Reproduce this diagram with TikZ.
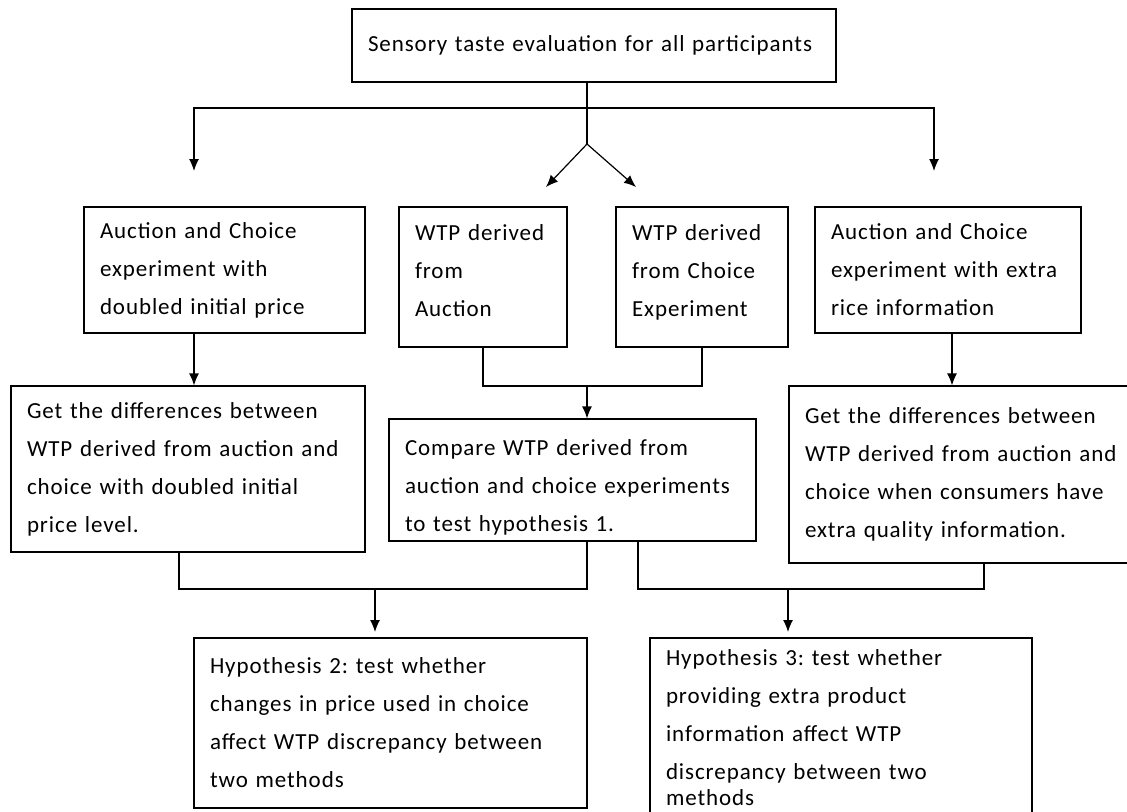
\documentclass[tikz,border=0pt]{standalone}
\usepackage{fontspec}
\setmainfont{Carlito}[LetterSpace=4,WordSpace=0.7]
\usetikzlibrary{arrows.meta}
\tikzset{
  box/.style={draw, line width=0.6pt, align=left, inner xsep=8pt, inner ysep=0pt,
    font=\fontsize{11.5}{19}\selectfont\frenchspacing},
  link/.style={line width=0.6pt},
  arr/.style={link, -{Latex[length=6pt,width=5pt]}}
}

\begin{document}
\begin{tikzpicture}[x=0.5pt,y=-0.5pt]
  \useasboundingbox (0,0) rectangle (1127,811);

  % Boxes
  \node[box, text width=226pt, minimum height=36.5pt] (taste) at (594,45.5)
    {Sensory taste evaluation for all participants};

  \node[box, text width=124.5pt, minimum height=63pt] (doubled) at (224.5,270)
    {Auction and Choice\\ experiment with\\ doubled initial price};
  \node[box, text width=68pt, minimum height=70pt] (wtpauction) at (483,277)
    {WTP derived\\ from\\ Auction\\[-12pt]\mbox{}};
  \node[box, text width=70pt, minimum height=70pt] (wtpchoice) at (702,277)
    {WTP derived\\ from Choice\\ Experiment\\[-12pt]\mbox{}};
  \node[box, text width=117pt, minimum height=63pt] (extrainfo) at (948,270)
    {Auction and Choice\\ experiment with extra\\ rice information};

  \node[box, text width=161pt, minimum height=83pt] (diffdouble) at (188,469)
    {Get the differences between\\ WTP derived from auction and\\ choice with doubled initial\\ price level.};
  \node[box, text width=167.5pt, minimum height=61pt] (compare) at (572.5,480)
    {\rule{0pt}{15pt}Compare WTP derived from\\ auction and choice experiments\\ to test hypothesis 1.};
  \node[box, text width=162pt, minimum height=88.5pt] (diffextra) at (967,474.5)
    {Get the differences between\\ WTP derived from auction and\\ choice when consumers have\\ extra quality information.};

  \node[box, text width=180.5pt, minimum height=85pt] (hyptwo) at (390.5,723)
    {Hypothesis 2: test whether\\ changes in price used in choice\\ affect WTP discrepancy between\\ two methods};
  \node[box, text width=175pt, minimum height=90pt] (hypthree) at (841,728)
    {Hypothesis 3: test whether\\ providing extra product\\ information affect WTP\\ discrepancy between two\\[-6pt] methods};

  % Split below the taste evaluation
  \coordinate (bus) at (587,108);
  \coordinate (fork) at (587,144);
  \coordinate (tipA) at (194,171);
  \coordinate (tipD) at (934,171);
  \coordinate (tipB) at (546,187);
  \coordinate (tipC) at (636,187);
  \draw[link] (taste.south -| fork) -- (fork);
  \draw[arr] (bus) -| (tipA);
  \draw[arr] (bus) -| (tipD);
  \draw[arr] (fork) -- (tipB);
  \draw[arr] (fork) -- (tipC);

  % Second row to third row
  \draw[arr] (tipA |- doubled.south) -- (tipA |- diffdouble.north);
  \coordinate (joinF) at (587,386);
  \draw[link] (wtpauction.south) |- (joinF) -| (wtpchoice.south);
  \draw[arr] (joinF) -- (joinF |- compare.north);
  \draw[arr] ([xshift=2pt]extrainfo.south) -- ([xshift=2pt]extrainfo.south |- diffextra.north);

  % Into the hypotheses
  \coordinate (joinH) at (375,589);
  \coordinate (joinI) at (788,589);
  \coordinate (stopH) at (375,632);
  \coordinate (stopI) at (788,632);
  \draw[link] ([xshift=-4.5pt]diffdouble.south) |- (joinH) -| ([xshift=7.25pt]compare.south);
  \draw[arr] (joinH) -- (stopH);
  \draw[link] ([xshift=32.75pt]compare.south) |- (joinI) -| ([xshift=8.5pt]diffextra.south);
  \draw[arr] (joinI) -- (stopI);
\end{tikzpicture}
\end{document}
